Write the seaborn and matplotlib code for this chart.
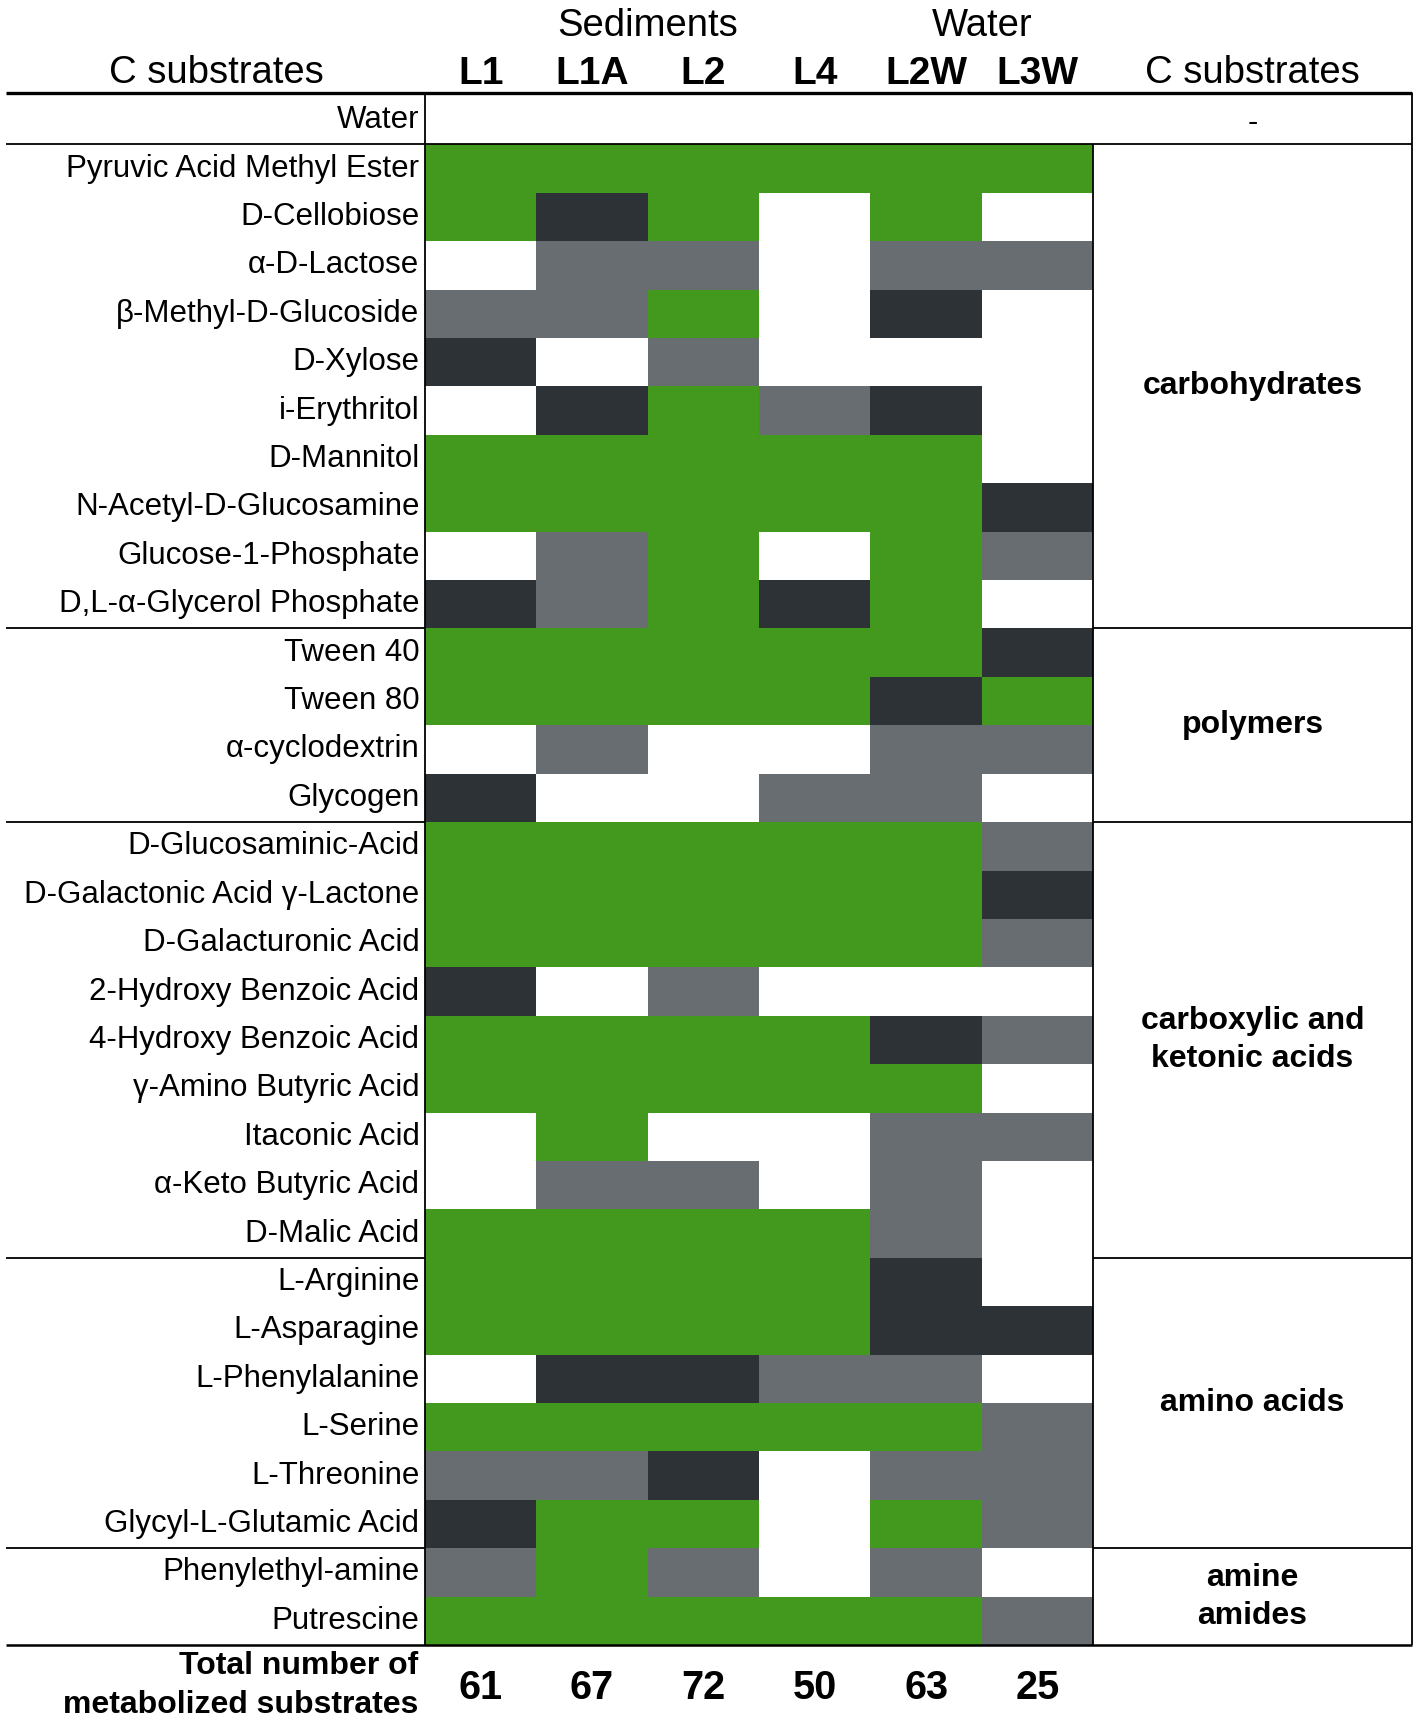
"""
Carbon substrate utilisation (Biolog EcoPlate) for sediment and water sites.
Shaded table drawn as a seaborn heatmap with category column on the right.
"""

import numpy as np
import pandas as pd
import matplotlib
matplotlib.use("Agg")
import matplotlib.pyplot as plt
from matplotlib.colors import ListedColormap
import seaborn as sns


# Data
substrates = [
    "Water",
    "Pyruvic Acid Methyl Ester", "D-Cellobiose", "α-D-Lactose", "β-Methyl-D-Glucoside",
    "D-Xylose", "i-Erythritol", "D-Mannitol", "N-Acetyl-D-Glucosamine",
    "Glucose-1-Phosphate", "D,L-α-Glycerol Phosphate",
    "Tween 40", "Tween 80", "α-cyclodextrin", "Glycogen",
    "D-Glucosaminic-Acid", "D-Galactonic Acid γ-Lactone", "D-Galacturonic Acid",
    "2-Hydroxy Benzoic Acid", "4-Hydroxy Benzoic Acid", "γ-Amino Butyric Acid",
    "Itaconic Acid", "α-Keto Butyric Acid", "D-Malic Acid",
    "L-Arginine", "L-Asparagine", "L-Phenylalanine", "L-Serine", "L-Threonine",
    "Glycyl-L-Glutamic Acid",
    "Phenylethyl-amine", "Putrescine",
]
sites = ["L1", "L1A", "L2", "L4", "L2W", "L3W"]

# 0 = not used (white), 1 = grey, 2 = dark grey, 3 = green
L1 = [0, 3, 3, 0, 1, 2, 0, 3, 3, 0, 2, 3, 3, 0, 2, 3, 3, 3, 2, 3, 3, 0, 0, 3, 3, 3, 0, 3, 1, 2, 1, 3]
L1A = [0, 3, 2, 1, 1, 0, 2, 3, 3, 1, 1, 3, 3, 1, 0, 3, 3, 3, 0, 3, 3, 3, 1, 3, 3, 3, 2, 3, 1, 3, 3, 3]
L2 = [0, 3, 3, 1, 3, 1, 3, 3, 3, 3, 3, 3, 3, 0, 0, 3, 3, 3, 1, 3, 3, 0, 1, 3, 3, 3, 2, 3, 2, 3, 1, 3]
L4 = [0, 3, 0, 0, 0, 0, 1, 3, 3, 0, 2, 3, 3, 0, 1, 3, 3, 3, 0, 3, 3, 0, 0, 3, 3, 3, 1, 3, 0, 0, 0, 3]
L2W = [0, 3, 3, 1, 2, 0, 2, 3, 3, 3, 3, 3, 2, 1, 1, 3, 3, 3, 0, 2, 3, 1, 1, 1, 2, 2, 1, 3, 1, 3, 1, 3]
L3W = [0, 3, 0, 1, 0, 0, 0, 0, 2, 1, 0, 2, 3, 1, 0, 1, 2, 1, 0, 1, 0, 1, 0, 0, 0, 2, 0, 1, 1, 1, 0, 1]

totals = [61, 67, 72, 50, 63, 25]

groups = ["carbohydrates", "polymers", "carboxylic and\nketonic acids", "amino acids", "amine\namides"]
group_sizes = [10, 4, 9, 6, 2]

site_groups = ["Sediments", "Water"]
site_group_span = [(0, 4), (4, 6)]

cell_colors = ["#ffffff", "#676d71", "#2c3236", "#43991e"]


def main():
    df = pd.DataFrame({"L1": L1, "L1A": L1A, "L2": L2, "L4": L4, "L2W": L2W, "L3W": L3W},
                      index=substrates)[sites]

    plt.rcParams["font.family"] = ["Liberation Sans", "DejaVu Sans"]

    fig = plt.figure(figsize=(14.17, 17.22), dpi=100)
    ax = fig.add_axes([425 / 1417, 1 - 1645 / 1722, 668 / 1417, 1549 / 1722])

    sns.heatmap(
        df,
        ax=ax,
        cmap=ListedColormap(cell_colors),
        vmin=-0.5,
        vmax=3.5,
        cbar=False,
        linewidths=0,
        xticklabels=sites,
        yticklabels=substrates,
    )

    n_rows = len(substrates)
    n_cols = len(sites)
    col_px = 668 / n_cols
    row_px = 1549 / n_rows
    x_left = (6 - 425) / col_px
    x_right = (1412 - 425) / col_px
    x_mid_right = (n_cols + x_right) / 2
    y_top = -3 / row_px

    # tick labels
    ax.xaxis.tick_top()
    ax.tick_params(axis="x", length=0, pad=3, labelsize=28)
    for t in ax.get_xticklabels():
        t.set_fontweight("bold")
    ax.tick_params(axis="y", length=0, pad=4, labelsize=22.5, labelrotation=0)

    # header texts
    for name in ["left", "right"]:
        xpos = (216 - 425) / col_px if name == "left" else x_mid_right
        ax.text(xpos, y_top - 0.2, "C substrates", ha="center", va="baseline",
                fontsize=27.5, clip_on=False)
    for name, (a, b) in zip(site_groups, site_group_span):
        ax.text((a + b) / 2, y_top - 1.17, name, ha="center", va="baseline",
                fontsize=27.5, clip_on=False)

    # table rules
    line_kw = dict(color="black", lw=1.3, clip_on=False, solid_capstyle="butt")
    ax.plot([x_left, x_right], [y_top, y_top], **dict(line_kw, lw=2.4))
    ax.plot([x_left, x_right], [1, 1], **line_kw)
    ax.plot([x_left, x_right], [n_rows, n_rows], **dict(line_kw, lw=1.8))
    ax.plot([0, 0], [y_top, n_rows], **line_kw)
    ax.plot([n_cols, n_cols], [1, n_rows], **line_kw)
    ax.plot([x_right, x_right], [y_top, n_rows], **line_kw)

    # water control row
    ax.text(x_mid_right, 0.55, "-", ha="center", va="center", fontsize=22, clip_on=False)

    # substrate categories
    start = 1
    for name, size in zip(groups, group_sizes):
        end = start + size
        ax.text(x_mid_right, (start + end) / 2, name, ha="center", va="center",
                fontsize=23, fontweight="bold", linespacing=1.35, clip_on=False)
        if end < n_rows:
            ax.plot([x_left, 0], [end, end], zorder=0, **line_kw)
            ax.plot([n_cols, x_right], [end, end], **line_kw)
        start = end

    # totals
    ax.text(-0.06, n_rows + 0.83, "Total number of\nmetabolized substrates",
            ha="right", va="center", fontsize=23, fontweight="bold",
            linespacing=1.4, clip_on=False)
    for i, val in enumerate(totals):
        ax.text(i + 0.5, n_rows + 0.89, str(val), ha="center", va="center",
                fontsize=28.5, fontweight="bold", clip_on=False)

    fig.savefig("out.png", dpi=100)


if __name__ == "__main__":
    main()
